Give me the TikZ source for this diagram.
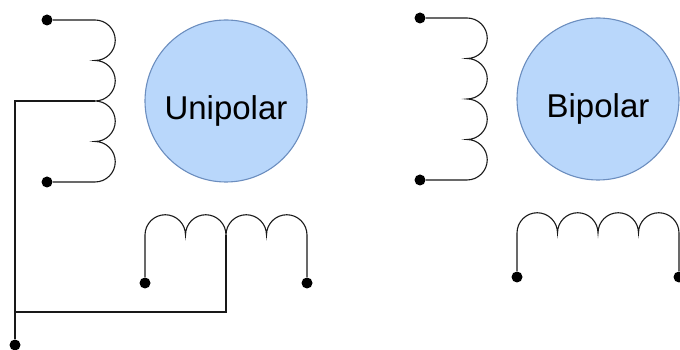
\documentclass[tikz,border=0pt]{standalone}
\usepackage{fontspec}
\setmainfont{Liberation Sans}
\usepackage{tikz}
\usetikzlibrary{positioning,calc}

\definecolor{rotorfill}{HTML}{B9D7FB}
\definecolor{rotorline}{HTML}{6C8EBF}

\begin{document}
\begin{tikzpicture}[x=1pt,y=1pt,line width=1.1pt,color=black!90,
                    terminal/.style={circle,fill=black,draw=none,inner sep=0pt,minimum size=11pt},
                    rotor/.style={circle,fill=rotorfill,draw=rotorline,inner sep=0pt,minimum size=162pt,
                                  text=black,text height=36.5pt,text depth=0pt,
                                  font=\fontsize{33}{40}\selectfont}]
  \useasboundingbox (0,0) rectangle (680,350);

  % unipolar motor
  \node[rotor]    (Uni)  at (226,249)  {Unipolar};
  \node[terminal] (UA)   at (47,330)   {};
  \node[terminal] (UB)   at (47,168)   {};
  \node[terminal] (UC)   at (145,67)   {};
  \node[terminal] (UD)   at (307,67)   {};
  \node[terminal] (UCom) at (15,5)     {};
  \coordinate (UTop)  at (95,330);
  \coordinate (UTap)  at (95,249);
  \coordinate (UBot)  at (95,168);
  \coordinate (ULeft) at (145,115);
  \coordinate (UMid)  at (226,115);
  \coordinate (UCorner) at (15,249);
  \coordinate (UJoin)  at (15,38);
  \coordinate (UFoot)  at (226,38);

  \draw (UA) -- (UTop)
        arc[start angle=90,end angle=-90,radius=20.25pt]
        arc[start angle=90,end angle=-90,radius=20.25pt]
        arc[start angle=90,end angle=-90,radius=20.25pt]
        arc[start angle=90,end angle=-90,radius=20.25pt] -- (UB);
  \draw (UC) -- (ULeft)
        arc[start angle=180,end angle=0,radius=20.25pt]
        arc[start angle=180,end angle=0,radius=20.25pt]
        arc[start angle=180,end angle=0,radius=20.25pt]
        arc[start angle=180,end angle=0,radius=20.25pt] -- (UD);
  \draw (UTap) -- (UCorner) -- (UCom);
  \draw (UMid) -- (UFoot) -- (UJoin);

  % bipolar motor
  \node[rotor]    (Bi)  at (598,251)  {Bipolar};
  \node[terminal] (BA)  at (420,332)  {};
  \node[terminal] (BB)  at (420,170)  {};
  \node[terminal] (BC)  at (517,73)   {};
  \node[terminal] (BD)  at (679,73)   {};
  \coordinate (BTop)   at (467,332);
  \coordinate (BLeft)  at (517,117);

  \draw (BA) -- (BTop)
        arc[start angle=90,end angle=-90,radius=20.25pt]
        arc[start angle=90,end angle=-90,radius=20.25pt]
        arc[start angle=90,end angle=-90,radius=20.25pt]
        arc[start angle=90,end angle=-90,radius=20.25pt] -- (BB);
  \draw (BC) -- (BLeft)
        arc[start angle=180,end angle=0,radius=20.25pt]
        arc[start angle=180,end angle=0,radius=20.25pt]
        arc[start angle=180,end angle=0,radius=20.25pt]
        arc[start angle=180,end angle=0,radius=20.25pt] -- (BD);
\end{tikzpicture}
\end{document}
